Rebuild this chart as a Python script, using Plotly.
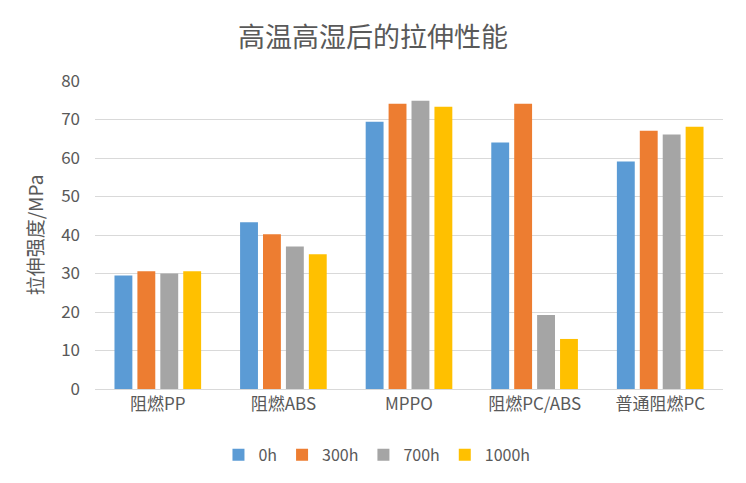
import plotly.graph_objects as go

categories = ["阻燃PP", "阻燃ABS", "MPPO", "阻燃PC/ABS", "普通阻燃PC"]
series_names = ["0h", "300h", "700h", "1000h"]
v_0h = [29.5, 43.3, 69.4, 64.0, 59.1]
v_300h = [30.6, 40.2, 74.1, 74.1, 67.1]
v_700h = [30.0, 37.0, 74.9, 19.2, 66.1]
v_1000h = [30.6, 35.0, 73.3, 13.0, 68.1]
colors = ["#5B9BD5", "#ED7D31", "#A5A5A5", "#FFC000"]

font_family = "Noto Sans CJK SC, Noto Sans, sans-serif"
fig = go.Figure()
for name, vals, c in zip(series_names, [v_0h, v_300h, v_700h, v_1000h], colors):
    fig.add_trace(go.Bar(x=categories, y=vals, name=name, marker_color=c, marker_line_width=0))

fig.update_layout(
    width=746, height=483,
    paper_bgcolor="white", plot_bgcolor="white",
    margin=dict(l=95, r=23, t=81, b=93),
    barmode="group", bargap=0.27, bargroupgap=0.22,
    font=dict(family=font_family, color="#595959", size=16),
    title=dict(text="高温高湿后的拉伸性能", x=0.5, xanchor="center", y=0.923, yanchor="middle",
               font=dict(size=27, color="#595959", family=font_family)),
    legend=dict(orientation="h", x=0.449, xanchor="center", y=-0.21, yanchor="middle",
                font=dict(size=16, color="#595959"), itemwidth=30, traceorder="normal"),
    xaxis=dict(showline=True, linecolor="#D9D9D9", linewidth=1, tickfont=dict(size=17), ticks=""),
    yaxis=dict(range=[0, 80], dtick=10, gridcolor="#D9D9D9", gridwidth=1, zeroline=False,
               tickfont=dict(size=17), ticks="", ticklabelstandoff=14,
               title=dict(text="拉伸强度/MPa", font=dict(size=19, color="#595959"), standoff=12)),
)
fig.write_html("out.html")
